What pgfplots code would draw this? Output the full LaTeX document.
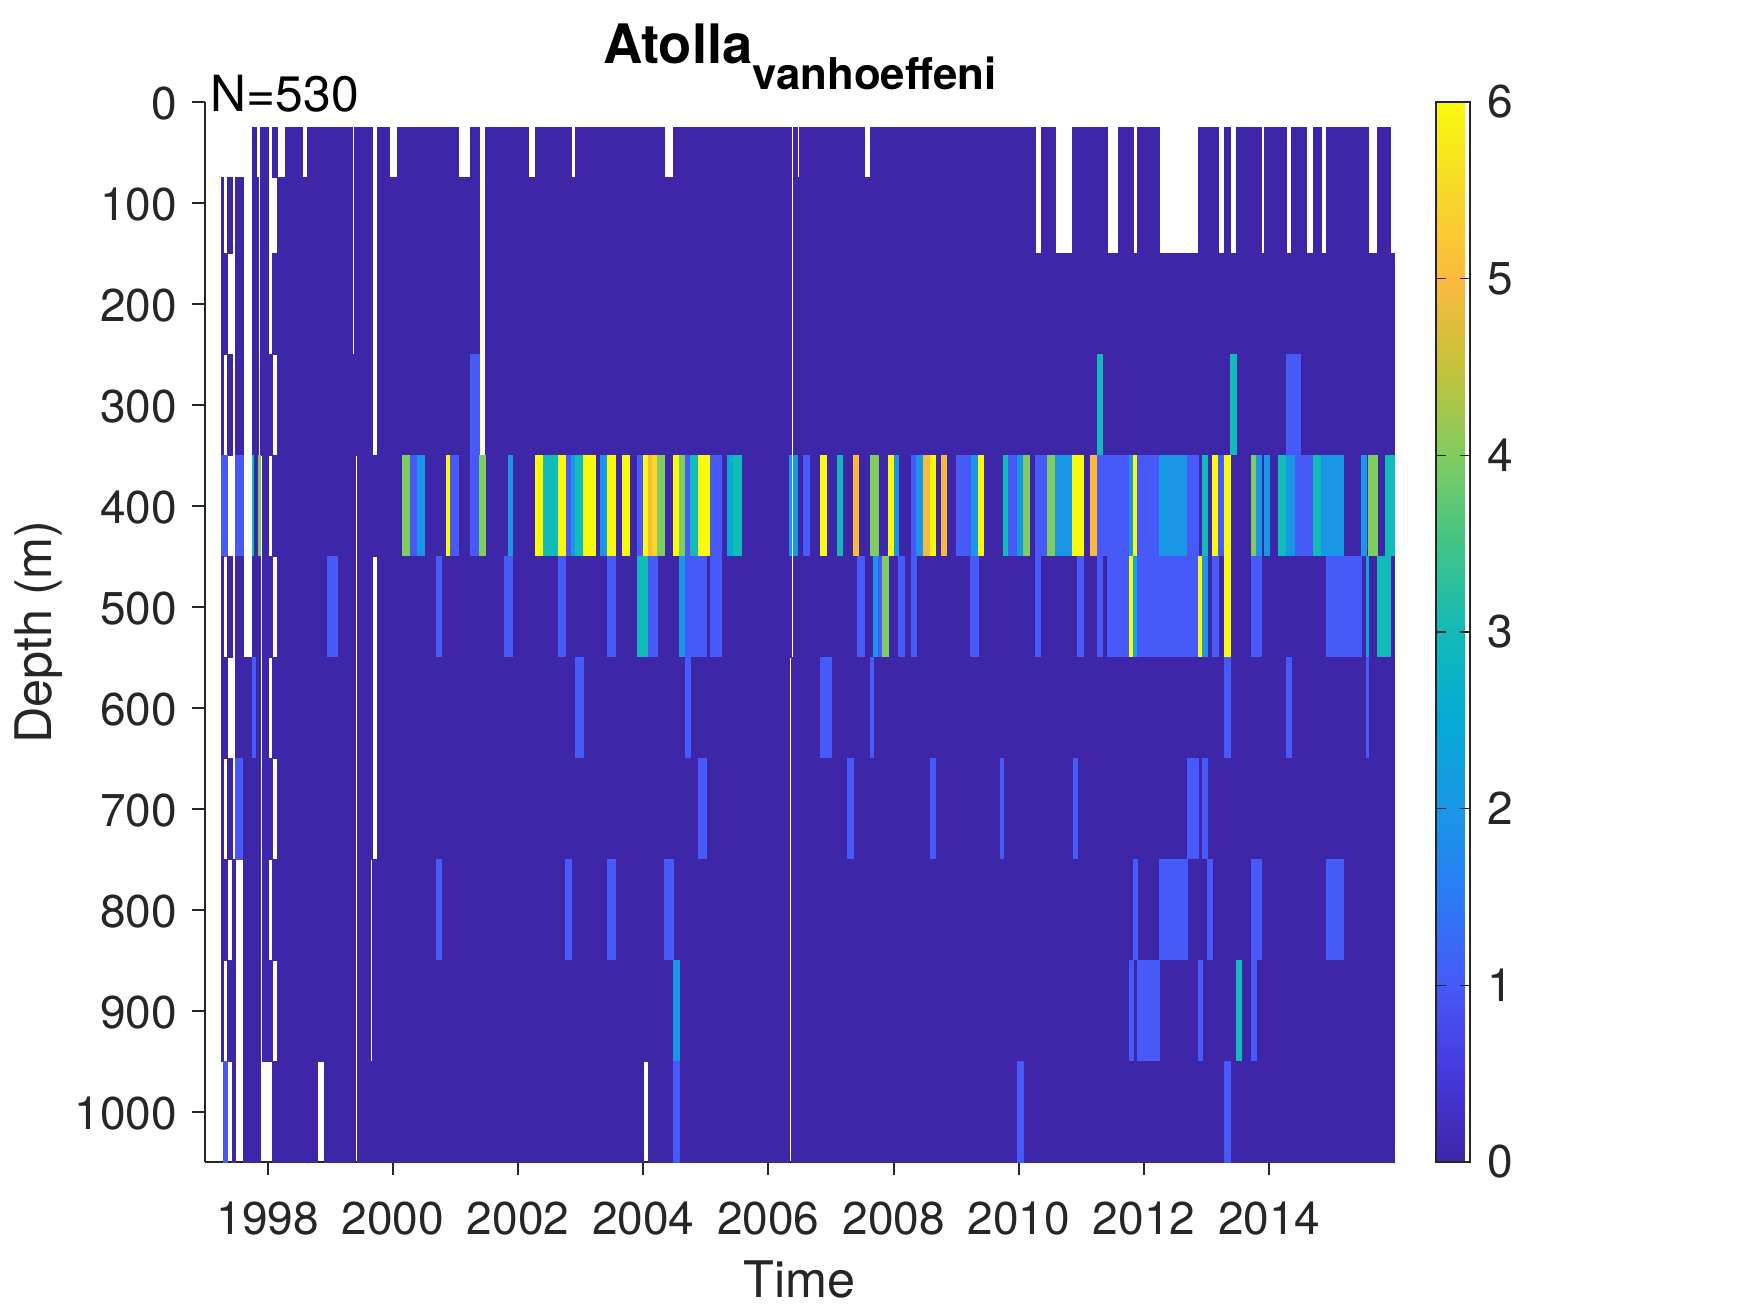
\documentclass[border=0pt]{standalone}
\usepackage{fontspec}
\setmainfont{TeX Gyre Heros}
\usepackage{pgfplots}
\usepackage{pgfplotstable}
\pgfplotsset{compat=1.18}
\definecolor{axgray}{HTML}{262626}

% columns: start, end (years), abundance class; one table per depth bin
\pgfplotstableread{
x0 x1 v
1997.75 1997.82 0
1997.88 1998.01 0
1998.07 1998.15 0
1998.28 1998.56 0
1998.64 1999.36 0
1999.39 1999.68 0
1999.75 1999.94 0
2000.07 2001.04 0
2001.24 2001.38 0
2001.48 2002.16 0
2002.28 2002.85 0
2002.92 2004.34 0
2004.48 2006.37 0
2006.40 2006.46 0
2006.50 2007.54 0
2007.63 2010.27 0
2010.36 2010.59 0
2010.86 2011.42 0
2011.59 2011.83 0
2011.90 2012.25 0
2012.87 2013.19 0
2013.29 2013.38 0
2013.48 2013.87 0
2013.92 2014.28 0
2014.36 2014.59 0
2014.70 2014.83 0
2014.92 2015.59 0
2015.73 2015.93 0
}\rowA
\pgfplotstableread{
x0 x1 v
1997.26 1997.30 0
1997.35 1997.43 0
1997.48 1997.61 0
1997.75 1997.85 0
1997.88 1998.01 0
1998.15 1999.36 0
1999.39 1999.68 0
1999.75 2001.38 0
2001.48 2006.37 0
2006.40 2010.27 0
2010.36 2010.59 0
2010.86 2011.42 0
2011.59 2011.83 0
2011.90 2012.25 0
2012.87 2013.19 0
2013.29 2013.38 0
2013.48 2013.87 0
2013.92 2014.28 0
2014.36 2014.59 0
2014.70 2014.83 0
2014.92 2015.59 0
2015.73 2015.93 0
}\rowB
\pgfplotstableread{
x0 x1 v
1997.26 1997.35 0
1997.48 1997.61 0
1997.75 1997.85 0
1997.88 1998.01 0
1998.07 1999.36 0
1999.39 1999.68 0
1999.75 2001.38 0
2001.48 2006.37 0
2006.40 2016 0
}\rowC
\pgfplotstableread{
x0 x1 v
1997.26 1997.30 0
1997.35 1997.43 0
1997.48 1997.61 0
1997.75 1997.85 0
1997.88 1998.07 0
1998.15 1999.68 0
1999.75 2001.24 0
2001.24 2001.38 1
2001.48 2006.37 0
2006.40 2016 0
2011.25 2011.34 3
2013.38 2013.48 3
2014.28 2014.50 1
}\rowD
\pgfplotstableread{
x0 x1 v
1997.75 1997.88 0
1997.91 1998.01 0
1998.07 1999.40 0
1999.43 2006.37 0
2006.40 2016 0
1997.26 1997.35 1
1997.48 1997.61 1
1997.75 1997.78 3
1997.85 1997.88 4
2000.16 2000.28 4
2000.28 2000.39 1
2000.39 2000.50 2
2000.85 2000.92 6
2000.92 2001.04 1
2001.24 2001.38 1
2001.38 2001.48 4
2001.84 2001.91 2
2002.28 2002.40 6
2002.40 2002.64 3
2002.64 2002.76 6
2002.77 2002.85 1
2002.85 2002.92 2
2002.92 2003.04 3
2003.04 2003.24 6
2003.32 2003.43 2
2003.43 2003.56 6
2003.67 2003.78 6
2003.91 2004.00 1
2004.00 2004.08 6
2004.08 2004.15 5
2004.15 2004.22 5.5
2004.22 2004.34 4
2004.48 2004.58 6
2004.58 2004.68 4
2004.68 2004.75 1
2004.75 2004.88 3
2004.88 2005.08 6
2005.08 2005.25 1
2005.35 2005.44 2.5
2005.44 2005.57 3
2006.33 2006.37 2
2006.40 2006.46 2
2006.56 2006.66 1
2006.83 2006.92 6
2007.11 2007.18 3
2007.35 2007.43 5
2007.63 2007.76 4
2007.92 2008.02 6
2008.02 2008.08 2
2008.29 2008.36 1
2008.36 2008.47 2
2008.47 2008.59 5
2008.59 2008.67 6
2008.77 2008.85 5
2009.01 2009.24 1
2009.24 2009.36 2
2009.36 2009.44 6
2009.76 2009.83 3
2009.83 2009.98 1
2009.98 2010.08 2
2010.08 2010.17 4
2010.27 2010.45 1
2010.45 2010.59 4
2010.59 2010.86 2
2010.86 2011.03 6
2011.15 2011.25 5
2011.25 2011.77 1
2011.77 2011.83 2
2011.83 2011.90 6
2011.90 2012.25 1
2012.25 2012.70 2
2012.70 2012.87 1
2012.94 2013.02 3
2013.10 2013.19 6
2013.19 2013.29 1
2013.29 2013.38 6
2013.71 2013.80 4
2013.80 2013.87 2
2013.92 2014.01 2
2014.14 2014.28 3
2014.28 2014.42 2
2014.42 2014.70 1
2014.70 2014.83 3
2014.83 2015.19 2
2015.47 2015.55 2
2015.59 2015.73 4
2015.86 2016 3
}\rowE
\pgfplotstableread{
x0 x1 v
1997.26 1997.30 0
1997.35 1997.43 0
1997.48 1997.61 0
1997.75 1997.88 0
1997.91 1998.07 0
1998.15 1999.40 0
1999.43 1999.68 0
1999.75 2006.37 0
2006.40 2016 0
1998.96 1999.11 1
2000.70 2000.77 1
2001.78 2001.91 1
2002.64 2002.76 1
2003.43 2003.56 1
2003.91 2004.08 3
2004.08 2004.22 1
2004.58 2004.68 2
2004.68 2005.01 1
2005.08 2005.25 1
2007.42 2007.54 1
2007.67 2007.76 2
2007.76 2007.82 1
2007.82 2007.92 4
2008.08 2008.17 1
2008.29 2008.36 1
2009.23 2009.36 1
2010.27 2010.35 1
2010.94 2011.03 1
2011.25 2011.34 1
2011.42 2011.77 1
2011.77 2011.83 6
2011.83 2011.90 2.5
2011.90 2012.87 1
2012.87 2012.94 6
2012.94 2013.02 2
2013.10 2013.19 1
2013.29 2013.38 6
2013.71 2013.87 1
2014.92 2015.47 1
2015.55 2015.59 2.5
2015.73 2015.93 3
}\rowF
\pgfplotstableread{
x0 x1 v
1997.26 1997.35 0
1997.48 1997.75 0
1997.75 1997.82 1
1997.82 1997.88 0
1997.91 1998.01 0
1998.07 1999.40 0
1999.43 1999.68 0
1999.75 2006.33 0
2006.36 2016 0
2002.92 2003.04 1
2004.68 2004.75 1
2006.83 2007.01 1
2007.63 2007.68 1
2013.29 2013.38 1
2014.28 2014.36 1
2015.55 2015.59 1
}\rowG
\pgfplotstableread{
x0 x1 v
1997.26 1997.30 0
1997.35 1997.43 0
1997.48 1997.61 1
1997.61 1997.75 0
1997.77 1997.88 0
1997.91 1998.07 0
1998.15 1999.40 0
1999.43 1999.68 0
1999.75 2006.33 0
2006.36 2016 0
2004.88 2005.01 1
2007.26 2007.36 1
2008.59 2008.67 1
2009.70 2009.76 1
2010.87 2010.94 1
2012.70 2012.87 1
2012.94 2013.02 1
}\rowH
\pgfplotstableread{
x0 x1 v
1997.26 1997.35 0
1997.43 1997.48 0
1997.61 1997.75 0
1997.77 1997.88 0
1997.91 1998.01 0
1998.07 1999.40 0
1999.43 1999.64 0
1999.68 2006.33 0
2006.36 2016 0
2000.70 2000.77 1
2002.76 2002.85 1
2003.43 2003.56 1
2004.34 2004.48 1
2011.83 2011.90 1
2012.25 2012.70 1
2013.02 2013.10 1
2013.71 2013.87 1
2014.92 2015.19 1
}\rowI
\pgfplotstableread{
x0 x1 v
1997.26 1997.30 0
1997.35 1997.48 0
1997.61 1997.75 0
1997.77 1997.88 0
1997.91 1998.07 0
1998.15 1999.40 0
1999.43 1999.64 0
1999.68 2006.33 0
2006.36 2016 0
2004.48 2004.58 2
2011.77 2011.83 1
2011.90 2012.25 1
2012.87 2012.94 1
2013.48 2013.55 3
2013.71 2013.80 1
}\rowJ
\pgfplotstableread{
x0 x1 v
1997.30 1997.35 1
1997.43 1997.48 0
1997.61 1997.75 0
1997.77 1997.88 0
1998.07 1998.80 0
1998.90 1999.40 0
1999.43 2004.00 0
2004.08 2006.33 0
2006.36 2016 0
2004.48 2004.58 1
2009.98 2010.08 1
2013.29 2013.38 1
}\rowK

% one depth bin: top, height, table
\newcommand\depthbin[3]{%
  \addplot[scatter, only marks, mark=*, mark size=0pt, forget plot,
    scatter/use mapped color={draw=none,fill=none},
    point meta=\thisrow{v},
    visualization depends on={\thisrow{x1}-\thisrow{x0}\as\cw},
    scatter/@pre marker code/.append code={%
      \fill[mapped color] (axis direction cs:0,0) rectangle (axis direction cs:\cw,#2);},
  ] table[x=x0, y expr=#1] {#3};
}

\begin{document}
\begin{tikzpicture}
\useasboundingbox (-102.5pt,-75.5pt) rectangle (772.5pt,581pt);
\begin{axis}[
    scale only axis,
    clip=false,
    width=594.7pt,
    height=530pt,
    xmin=1997, xmax=2016,
    ymin=0, ymax=1050,
    y dir=reverse,
    axis x line*=bottom,
    axis y line*=left,
    axis line style={color=axgray, line width=1pt},
    every tick/.style={color=axgray, line width=1pt},
    tick align=outside,
    major tick length=6.5pt,
    xtick={1998,2000,...,2014},
    ytick={0,100,...,1000},
    minor tick num=0,
    scaled ticks=false,
    /pgf/number format/1000 sep={},
    /pgf/number format/assume math mode=true,
    tick label style={font=\fontsize{23}{27}\selectfont, color=axgray},
    yticklabel style={xshift=-4pt, yshift=-1pt},
    xticklabel style={yshift=-10pt},
    xlabel={Time},
    ylabel={Depth (m)},
    label style={font=\fontsize{25.2}{30}\selectfont, color=axgray},
    xlabel style={at={(axis description cs:0.5,0)}, anchor=base, yshift=-67.5pt},
    ylabel style={at={(axis description cs:0,0.5)}, anchor=base, yshift=76.8pt},
    title={\fontsize{27.2}{32}\selectfont\bfseries Atolla\raisebox{-13pt}{\fontsize{21.9}{26}\selectfont\bfseries vanhoeffeni}},
    title style={at={(axis description cs:0.5,1)}, anchor=base, yshift=13.4pt},
    colormap={parula}{
      rgb=(0.2422,0.1504,0.6603)
      rgb=(0.2700,0.2200,0.8700)
      rgb=(0.2800,0.3500,0.9700)
      rgb=(0.1700,0.4800,0.9700)
      rgb=(0.1000,0.5900,0.9000)
      rgb=(0.0200,0.6700,0.8400)
      rgb=(0.0700,0.7300,0.7200)
      rgb=(0.2600,0.7700,0.5300)
      rgb=(0.5000,0.8000,0.3800)
      rgb=(0.7800,0.7600,0.2300)
      rgb=(0.9900,0.7300,0.2400)
      rgb=(0.9700,0.8500,0.1600)
      rgb=(0.9800,0.9800,0.0500)
    },
    point meta min=0, point meta max=6,
    colorbar,
    colorbar style={
      at={(parent axis.north east)}, anchor=north west, xshift=12.2pt,
      width=17pt,
      ytick={0,1,...,6},
      tick align=inside,
      major tick length=5pt,
      every tick/.style={color=axgray, line width=0.6pt},
      axis line style={color=axgray, line width=0.8pt},
      yticklabel pos=right,
      /pgf/number format/assume math mode=true,
      tick label style={font=\fontsize{23}{27}\selectfont, color=axgray},
      yticklabel style={xshift=5.5pt},
    },
]
\depthbin{25}{50}{\rowA}
\depthbin{75}{75}{\rowB}
\depthbin{150}{100}{\rowC}
\depthbin{250}{100}{\rowD}
\depthbin{350}{100}{\rowE}
\depthbin{450}{100}{\rowF}
\depthbin{550}{100}{\rowG}
\depthbin{650}{100}{\rowH}
\depthbin{750}{100}{\rowI}
\depthbin{850}{100}{\rowJ}
\depthbin{950}{100}{\rowK}
\node[anchor=base west, font=\fontsize{24.9}{30}\selectfont] at (axis cs:1996.98,9) {N=530};
\end{axis}
\end{tikzpicture}
\end{document}
